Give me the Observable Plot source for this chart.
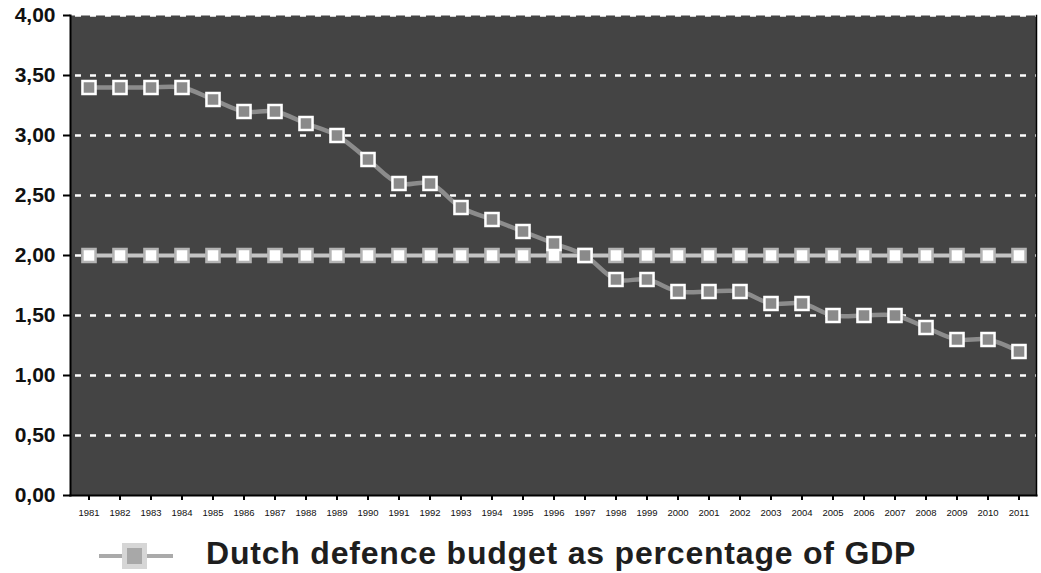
<!DOCTYPE html>
<html>
<head>
<meta charset="utf-8">
<script src="https://cdn.jsdelivr.net/npm/d3@7"></script>
<script src="https://cdn.jsdelivr.net/npm/@observablehq/plot@0.6"></script>
<style>
  html, body { margin: 0; padding: 0; background: #fff; }
  body { width: 1041px; height: 573px; overflow: hidden; font-family: "Liberation Sans", Arial, sans-serif; }
  #legend { position: relative; height: 53px; }
  .ln { position: absolute; left: 99px; width: 74px; top: 34px; height: 4px; background: #aaaaaa; }
  .bx { position: absolute; left: 122px; top: 23px; width: 15px; height: 16px; background: #a8a8a8; border: 5px solid #d6d6d6; }
  .lt { position: absolute; left: 206px; top: 17px; font-weight: bold; font-size: 32px; line-height: 32px; letter-spacing: 0.8px; color: #1e1e1e; white-space: nowrap; }
</style>
</head>
<body>
<div id="chart"></div>
<div id="legend"><div class="ln"></div><div class="bx"></div><span class="lt">Dutch defence budget as percentage of GDP</span></div>
<script>
const years = [1981,1982,1983,1984,1985,1986,1987,1988,1989,1990,1991,1992,1993,1994,1995,1996,1997,1998,1999,2000,2001,2002,2003,2004,2005,2006,2007,2008,2009,2010,2011];
const budget = [3.4,3.4,3.4,3.4,3.3,3.2,3.2,3.1,3.0,2.8,2.6,2.6,2.4,2.3,2.2,2.1,2.0,1.8,1.8,1.7,1.7,1.7,1.6,1.6,1.5,1.5,1.5,1.4,1.3,1.3,1.2];
const natoNorm = years.map(() => 2.0);
const yTicks = [0,0.5,1,1.5,2,2.5,3,3.5,4];
const gridTicks = [0.5,1,1.5,2,2.5,3,3.5,4];

const dataBudget = years.map((y, i) => ({year: String(y), value: budget[i]}));
const dataNorm = years.map((y, i) => ({year: String(y), value: natoNorm[i]}));
const fmt = d => d.toFixed(2).replace(".", ",");

const chart = Plot.plot({
  width: 1041,
  height: 520,
  marginTop: 15,
  marginBottom: 25,
  marginLeft: 70,
  marginRight: 5,
  style: {fontFamily: "'Liberation Sans', Arial, sans-serif", background: "#fff", color: "#111"},
  x: {type: "band", domain: years.map(String), padding: 0, label: null},
  y: {domain: [0, 4], label: null},
  marks: [
    Plot.frame({fill: "#444444", stroke: null}),
    Plot.ruleY(gridTicks, {stroke: "white", strokeWidth: 2.5, strokeDasharray: "6,9", strokeDashoffset: -5}),
    Plot.frame({anchor: "left", stroke: "black", strokeWidth: 2}),
    Plot.frame({anchor: "bottom", stroke: "black", strokeWidth: 2}),
    Plot.frame({anchor: "right", stroke: "black", strokeWidth: 1.5}),
    Plot.axisY({ticks: yTicks, tickFormat: fmt, tickSize: 7, tickPadding: 8, fontSize: 21, fontWeight: "bold", stroke: "black", strokeWidth: 2}),
    Plot.axisX({tickSize: 5, tickPadding: 9, fontSize: 9.5, stroke: "black", strokeWidth: 2}),
    Plot.line(dataNorm, {x: "year", y: "value", stroke: "#c4c4c4", strokeWidth: 4}),
    Plot.dot(dataNorm, {x: "year", y: "value", symbol: "square", r: 7.4, fill: "white", stroke: "#b4b4b4", strokeWidth: 2.5}),
    Plot.line(dataBudget, {x: "year", y: "value", stroke: "#8c8c8c", strokeWidth: 4.5, curve: "catmull-rom"}),
    Plot.dot(dataBudget, {x: "year", y: "value", symbol: "square", r: 7.4, fill: "#8a8a8a", stroke: "white", strokeWidth: 2.5})
  ]
});
document.getElementById("chart").appendChild(chart);
</script>
</body>
</html>
